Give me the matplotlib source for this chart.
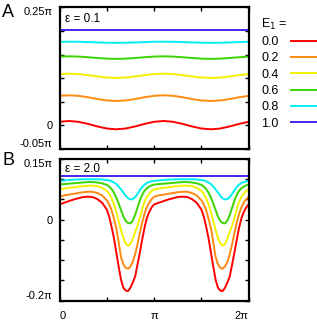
import numpy as np
import matplotlib
matplotlib.use("Agg")
import matplotlib.pyplot as plt

plt.rcParams['font.family'] = ['Liberation Sans', 'DejaVu Sans']

# ---------------- data (x and y in units of pi) ----------------
E1_labels = ["0.0", "0.2", "0.4", "0.6", "0.8", "1.0"]
colors = ["#ff0000", "#ff8a10", "#f2f200", "#3ad400", "#00eef0", "#4a24ee"]

# Panel A (eps = 0.1): one period, sampled every 0.1 pi
xA = [0.0, 0.1, 0.2, 0.3, 0.4, 0.5, 0.6, 0.7, 0.8, 0.9, 1.0]
A_00 = [0.0076, 0.0093, 0.0076, 0.0032, -0.0022, -0.0066, -0.0083, -0.0066, -0.0022, 0.0032, 0.0076]
A_02 = [0.0626, 0.0637, 0.0626, 0.0596, 0.0558, 0.0528, 0.0517, 0.0528, 0.0558, 0.0596, 0.0626]
A_04 = [0.1086, 0.1095, 0.1086, 0.1064, 0.1036, 0.1014, 0.1005, 0.1014, 0.1036, 0.1064, 0.1086]
A_06 = [0.1457, 0.1462, 0.1457, 0.1443, 0.1427, 0.1413, 0.1408, 0.1413, 0.1427, 0.1443, 0.1457]
A_08 = [0.1770, 0.1772, 0.1770, 0.1764, 0.1756, 0.1750, 0.1748, 0.1750, 0.1756, 0.1764, 0.1770]
A_10 = [0.202, 0.202, 0.202, 0.202, 0.202, 0.202, 0.202, 0.202, 0.202, 0.202, 0.202]

# Panel B (eps = 2.0): one period
xB = [0.0, 0.05, 0.1, 0.15, 0.2, 0.25, 0.3, 0.35, 0.4, 0.45, 0.5,
      0.525, 0.55, 0.575, 0.6, 0.625, 0.65, 0.675, 0.7, 0.725, 0.75,
      0.775, 0.8, 0.825, 0.85, 0.875, 0.9, 0.925, 0.95, 0.975, 1.0]
B_00 = [0.038, 0.042, 0.046, 0.050, 0.053, 0.056, 0.057, 0.056, 0.051, 0.042, 0.025,
        0.008, -0.017, -0.045, -0.080, -0.115, -0.148, -0.168, -0.175, -0.176, -0.168,
        -0.155, -0.140, -0.110, -0.080, -0.048, -0.018, 0.005, 0.020, 0.031, 0.038]
B_02 = [0.057, 0.060, 0.062, 0.064, 0.066, 0.068, 0.069, 0.069, 0.066, 0.060, 0.048,
        0.038, 0.024, 0.003, -0.020, -0.055, -0.092, -0.110, -0.119, -0.121, -0.115,
        -0.104, -0.085, -0.060, -0.032, -0.006, 0.016, 0.032, 0.043, 0.051, 0.057]
B_04 = [0.075, 0.077, 0.079, 0.080, 0.082, 0.083, 0.084, 0.084, 0.083, 0.079, 0.071,
        0.064, 0.053, 0.039, 0.020, -0.003, -0.025, -0.045, -0.059, -0.064, -0.060,
        -0.047, -0.030, -0.014, 0.005, 0.028, 0.045, 0.057, 0.065, 0.071, 0.075]
B_06 = [0.087, 0.088, 0.089, 0.090, 0.091, 0.092, 0.093, 0.093, 0.092, 0.090, 0.086,
        0.082, 0.076, 0.067, 0.055, 0.040, 0.024, 0.008, -0.003, -0.008, -0.009,
        -0.002, 0.012, 0.030, 0.048, 0.062, 0.072, 0.078, 0.082, 0.085, 0.087]
B_08 = [0.096, 0.097, 0.098, 0.099, 0.0995, 0.100, 0.100, 0.100, 0.100, 0.0995, 0.098,
        0.097, 0.095, 0.092, 0.088, 0.082, 0.075, 0.067, 0.059, 0.053, 0.050,
        0.051, 0.056, 0.064, 0.073, 0.081, 0.087, 0.091, 0.093, 0.095, 0.096]
B_10 = [0.108] * len(xB)

seriesA = [A_00, A_02, A_04, A_06, A_08, A_10]
seriesB = [B_00, B_02, B_04, B_06, B_08, B_10]
periods = [0.0, 1.0]

# ---------------- figure ----------------
fig = plt.figure(figsize=(3.17, 3.24), dpi=100)
W, H = 317.0, 324.0
left, right = 59.5, 248.7
axA = fig.add_axes([left / W, 1 - 149.0 / H, (right - left) / W, 141.7 / H])
axB = fig.add_axes([left / W, 1 - 300.7 / H, (right - left) / W, 141.7 / H])

lw = 1.4
handles = []
for ys, c, lab in zip(seriesA, colors, E1_labels):
    for k, p in enumerate(periods):
        l, = axA.plot(np.asarray(xA) + p, ys, color=c, lw=lw,
                      label=lab if k == 0 else None, solid_capstyle='butt')
        if k == 0:
            handles.append(l)
for ys, c in zip(seriesB, colors):
    for p in periods:
        axB.plot(np.asarray(xB) + p, ys, color=c, lw=lw, solid_capstyle='butt')

fs = 8
for ax in (axA, axB):
    ax.set_xlim(0, 2)
    ax.set_xticks([0, 0.5, 1, 1.5, 2])
    ax.tick_params(direction='in', top=True, right=True, length=3, width=1.0,
                   labelsize=fs, pad=5)
    for s in ax.spines.values():
        s.set_linewidth(1.6)

axA.set_ylim(-0.05, 0.25)
axA.set_yticks([-0.05, 0, 0.05, 0.1, 0.15, 0.2, 0.25])
axA.set_yticklabels(["-0.05π", "0", "", "", "", "", "0.25π"])
axA.set_xticklabels([])

axB.set_ylim(-0.2, 0.15)
axB.set_yticks([-0.2, -0.15, -0.1, -0.05, 0, 0.05, 0.1, 0.15])
axB.set_yticklabels(["-0.2π", "", "", "", "0", "", "", "0.15π"])
axB.set_xticklabels(["0", "", "π", "", "2π"])
axB.tick_params(axis='x', pad=7.5)

for ax in (axA, axB):
    tl = ax.get_yticklabels()
    tl[0].set_va('bottom')
    tl[-1].set_va('top')
xl = axB.get_xticklabels()
xl[0].set_ha('left')
xl[-1].set_ha('right')

axA.text(0.03, 0.916, "ε = 0.1", transform=axA.transAxes, ha='left', va='center', fontsize=8.5)
axB.text(0.03, 0.93, "ε = 2.0", transform=axB.transAxes, ha='left', va='center', fontsize=8.5)

fig.text(2 / W, 1 - 12.5 / H, "A", fontsize=13, ha='left', va='center')
fig.text(2 / W, 1 - 160.5 / H, "B", fontsize=13, ha='left', va='center')

leg = fig.legend(handles=handles, labels=E1_labels, title="E$_1$ =",
                 loc='upper left', bbox_to_anchor=(261 / W, 1 - 16.5 / H),
                 frameon=False, markerfirst=False, fontsize=9, title_fontsize=9,
                 handlelength=3.0, handletextpad=0.9, labelspacing=0.35,
                 borderpad=0, borderaxespad=0, alignment='left')

fig.savefig("out.png", dpi=100)
